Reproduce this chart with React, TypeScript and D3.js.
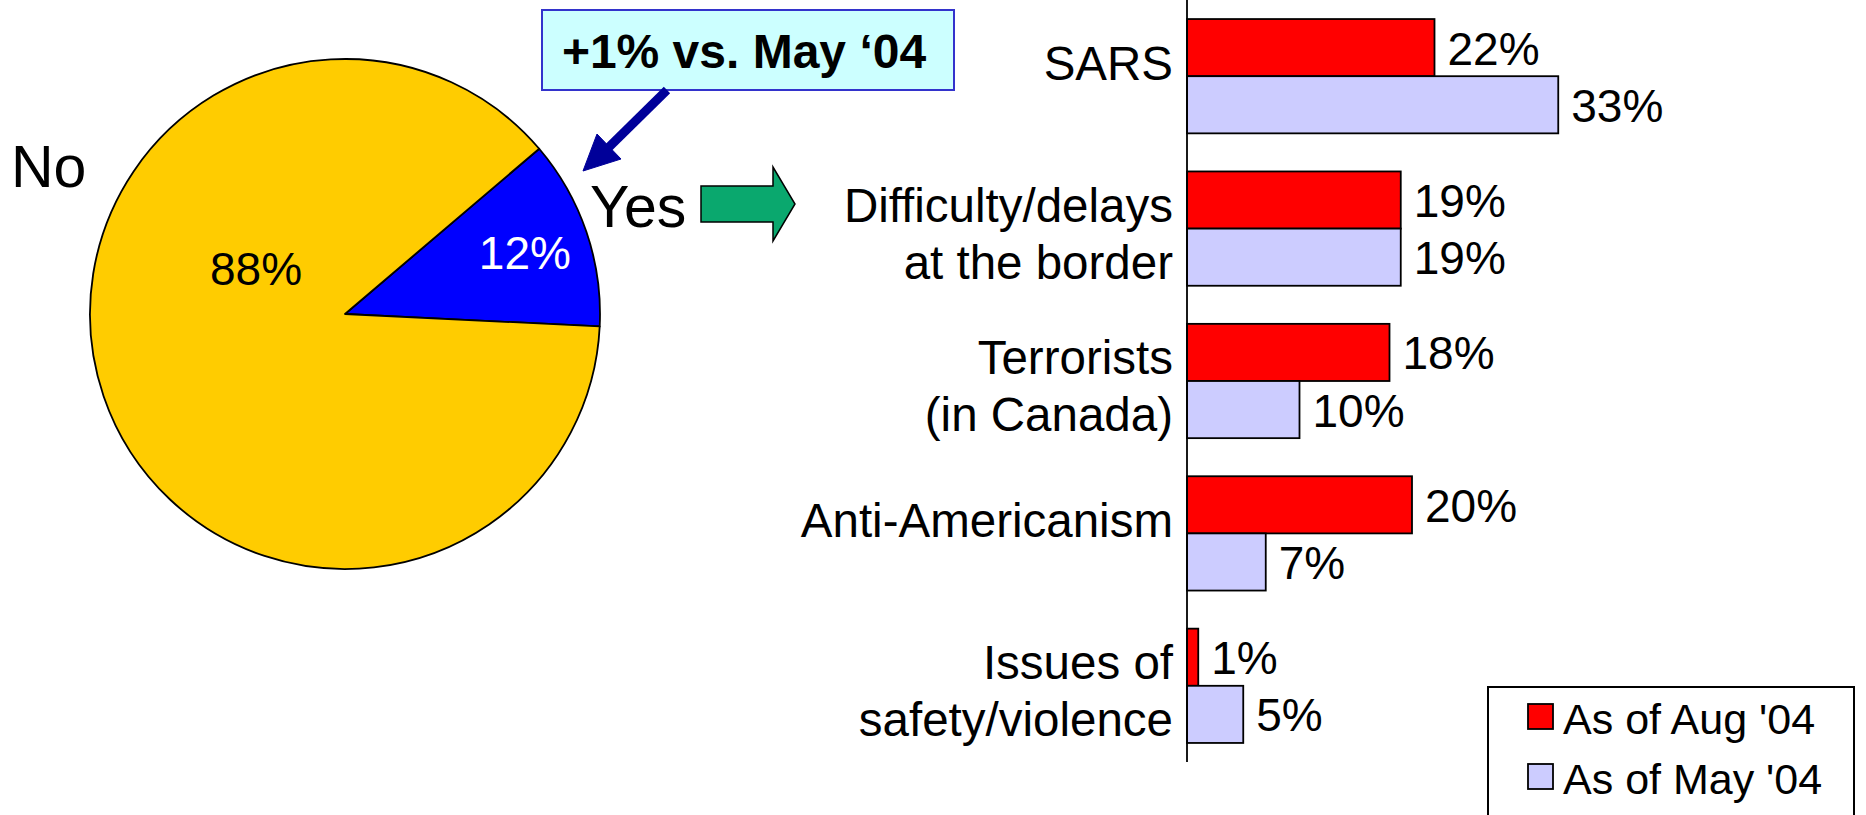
import React from "react";
import * as d3 from "d3";

// ---- data ----
const pieLabels = ["Yes", "No"];
const pieValues = [12, 88];
const categories = [
  "SARS",
  "Difficulty/delays\nat the border",
  "Terrorists\n(in Canada)",
  "Anti-Americanism",
  "Issues of\nsafety/violence",
];
const seriesNames = ["As of Aug '04", "As of May '04"];
const aug04 = [22, 19, 18, 20, 1];
const may04 = [33, 19, 10, 7, 5];
const calloutText = "+1% vs. May \u201804";

const seriesValues = [aug04, may04];
const seriesColors = ["#FF0000", "#CCCCFF"];
const pieColors = ["#0000FF", "#FFCC00"];
const FONT = "'Liberation Sans', Arial, Helvetica, sans-serif";

export default function App() {
  const W = 1866;
  const H = 815;

  // pie
  const cx = 345, cy = 314, r = 255;
  const start = (49.6 * Math.PI) / 180;
  const pieGen = d3.pie<number>().sort(null).startAngle(start).endAngle(start + 2 * Math.PI);
  const arcs = pieGen(pieValues);
  const arcGen = d3.arc<d3.PieArcDatum<number>>().innerRadius(0).outerRadius(r);
  const labelArc = d3.arc<d3.PieArcDatum<number>>().innerRadius(r * 0.745).outerRadius(r * 0.745);
  const yesCentroid = labelArc.centroid(arcs[0]);

  // bars
  const axisX = 1187;
  const x = d3.scaleLinear().domain([0, 40]).range([axisX, axisX + 450]);
  const y = d3.scaleBand<string>().domain(categories).range([0, 762]).paddingInner(0.25).paddingOuter(0.125);
  const ySub = d3.scaleBand<string>().domain(seriesNames).range([0, y.bandwidth()]);

  const catFont = 47.5;

  return (
    <svg width={W} height={H} style={{ position: "absolute", left: 0, top: 0 }} fontFamily={FONT}>
      <rect x={0} y={0} width={W} height={H} fill="#fff" />
      {/* pie */}
      <g transform={`translate(${cx},${cy})`}>
        {arcs.map((a, i) => (
          <path key={pieLabels[i]} d={arcGen(a) || ""} fill={pieColors[i]} stroke="#000" strokeWidth={1.8} strokeLinejoin="round" />
        ))}
        <text x={yesCentroid[0]} y={yesCentroid[1]} dy={16.5} textAnchor="middle" fontSize={46} fill="#fff">
          {pieValues[0]}%
        </text>
        <text x={-89} y={-46} dy={16.5} textAnchor="middle" fontSize={46} fill="#000">
          {pieValues[1]}%
        </text>
      </g>
      <text x={11} y={187} fontSize={59} fill="#000">{pieLabels[1]}</text>
      <text x={590} y={227} fontSize={59} fill="#000">{pieLabels[0]}</text>

      {/* green arrow */}
      <polygon
        points="701,186 773,186 773,167 795,204 773,241 773,222 701,222"
        fill="#0AA86E"
        stroke="#000"
        strokeWidth={1.5}
        strokeLinejoin="miter"
      />

      {/* callout */}
      <rect x={542} y={10} width={412} height={80} fill="#CCFFFF" stroke="#3333CC" strokeWidth={2} />
      <text x={744} y={68} textAnchor="middle" fontSize={48} fontWeight="bold" fill="#000">
        {calloutText}
      </text>
      <line x1={667} y1={90} x2={606} y2={150} stroke="#000099" strokeWidth={9} />
      <polygon points="583,171 597,134 621,159" fill="#000099" stroke="#000099" strokeWidth={1} />

      {/* bars */}
      {categories.map((c, ci) => {
        const y0 = y(c) || 0;
        const lines = c.split("\n");
        const center = y0 + y.bandwidth() / 2;
        return (
          <g key={c}>
            {seriesNames.map((s, si) => {
              const v = seriesValues[si][ci];
              const by = y0 + (ySub(s) || 0);
              const bh = ySub.bandwidth();
              return (
                <g key={s}>
                  <rect x={axisX} y={by} width={x(v) - axisX} height={bh} fill={seriesColors[si]} stroke="#000" strokeWidth={1.8} />
                  <text x={x(v) + 13} y={by + bh / 2 + 17} fontSize={46} fill="#000">
                    {v}%
                  </text>
                </g>
              );
            })}
            {lines.length === 1 ? (
              <text x={axisX - 14} y={center + 4} textAnchor="end" fontSize={catFont} fill="#000">
                {lines[0]}
              </text>
            ) : (
              lines.map((ln, li) => (
                <text key={ln} x={axisX - 14} y={center - 7 + li * 57} textAnchor="end" fontSize={catFont} fill="#000">
                  {ln}
                </text>
              ))
            )}
          </g>
        );
      })}
      <line x1={axisX} y1={0} x2={axisX} y2={762} stroke="#000" strokeWidth={1.8} />

      {/* legend */}
      <rect x={1488} y={687} width={366} height={160} fill="#fff" stroke="#000" strokeWidth={2} />
      {seriesNames.map((s, i) => (
        <g key={s}>
          <rect x={1528} y={704 + i * 60} width={25} height={25} fill={seriesColors[i]} stroke="#000" strokeWidth={1.8} />
          <text x={1563} y={734 + i * 60} fontSize={43} fill="#000">
            {s}
          </text>
        </g>
      ))}
    </svg>
  );
}
